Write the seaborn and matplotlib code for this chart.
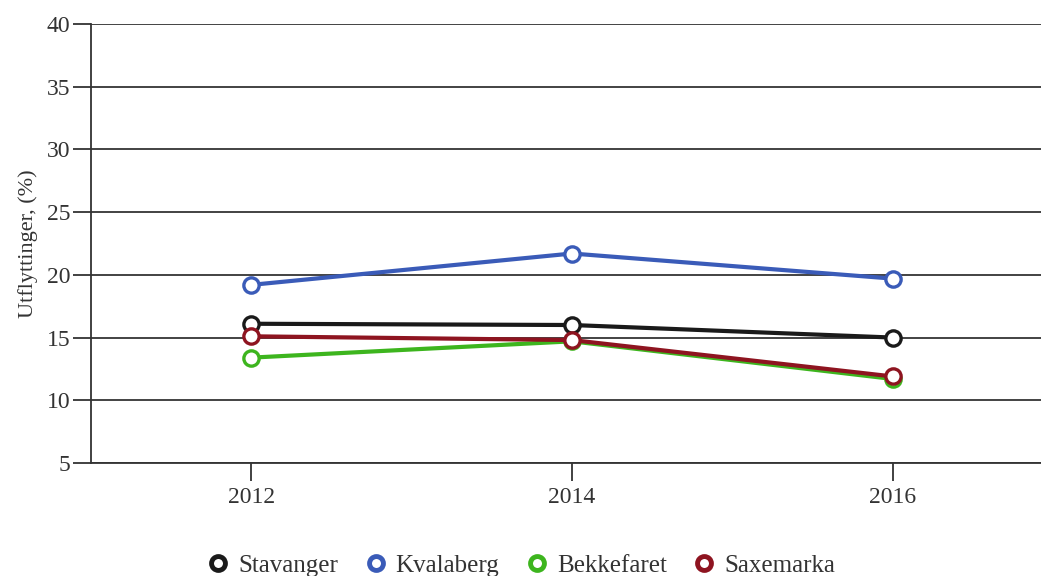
"""Utflyttinger per område, 2012-2016."""

import pandas as pd
import seaborn as sns
import matplotlib.pyplot as plt

# Data
years = [2012, 2014, 2016]
areas = ["Stavanger", "Kvalaberg", "Bekkefaret", "Saxemarka"]
stavanger = [16.1, 16.0, 15.0]
kvalaberg = [19.2, 21.7, 19.7]
bekkefaret = [13.4, 14.7, 11.7]
saxemarka = [15.1, 14.8, 11.9]
colors = ["#1a1a1a", "#3a5bb8", "#3db51e", "#8e1420"]

# Long format for seaborn
df = pd.DataFrame({
    "År": years * 4,
    "Område": [a for a in areas for _ in years],
    "Utflyttinger": stavanger + kvalaberg + bekkefaret + saxemarka,
})

sns.set_theme(style="white")
plt.rcParams["font.family"] = ["Liberation Serif", "DejaVu Serif"]

fig = plt.figure(figsize=(10.41, 5.76), dpi=100)
ax = fig.add_axes([0.0874, 0.1962, 0.924, 0.7622])

sns.lineplot(data=df, x="År", y="Utflyttinger", hue="Område", hue_order=areas,
             palette=colors, marker="o", markersize=11, markerfacecolor="white",
             markeredgewidth=2.4, linewidth=3, legend=False, ax=ax, zorder=3)
# set edge colours of markers to match lines
for line, c in zip(ax.lines, colors):
    line.set_markeredgecolor(c)

ax.set_xlim(2011, 2017)
ax.set_ylim(5, 40)
ax.set_xticks(years)
ax.set_yticks(range(5, 41, 5))
ax.yaxis.grid(True, color="#222222", linewidth=1.2)
ax.set_axisbelow(True)

for side in ["top", "right"]:
    ax.spines[side].set_visible(False)
for side in ["left", "bottom"]:
    ax.spines[side].set_color("#333333")
    ax.spines[side].set_linewidth(1.3)

ax.tick_params(axis="both", which="both", direction="out", length=13, width=1.3,
               color="#333333", labelsize=17, labelcolor="#333333", left=True, bottom=True)
ax.tick_params(axis="x", pad=4)
ax.tick_params(axis="y", pad=2)

ax.set_xlabel("")
ax.set_ylabel("Utflyttinger, (%)", fontsize=16, color="#333333", labelpad=6)

handles = [plt.Line2D([], [], linestyle="none", marker="o", markersize=10,
                      markerfacecolor="white", markeredgecolor=c, markeredgewidth=3.5)
           for c in colors]
fig.legend(handles, areas, loc="lower center", bbox_to_anchor=(0.5, -0.04), ncol=4,
           frameon=False, fontsize=18, handlelength=1.0, handletextpad=0.3,
           columnspacing=1.0, labelcolor="#333333")

plt.savefig("out.png", dpi=100)
plt.close()
